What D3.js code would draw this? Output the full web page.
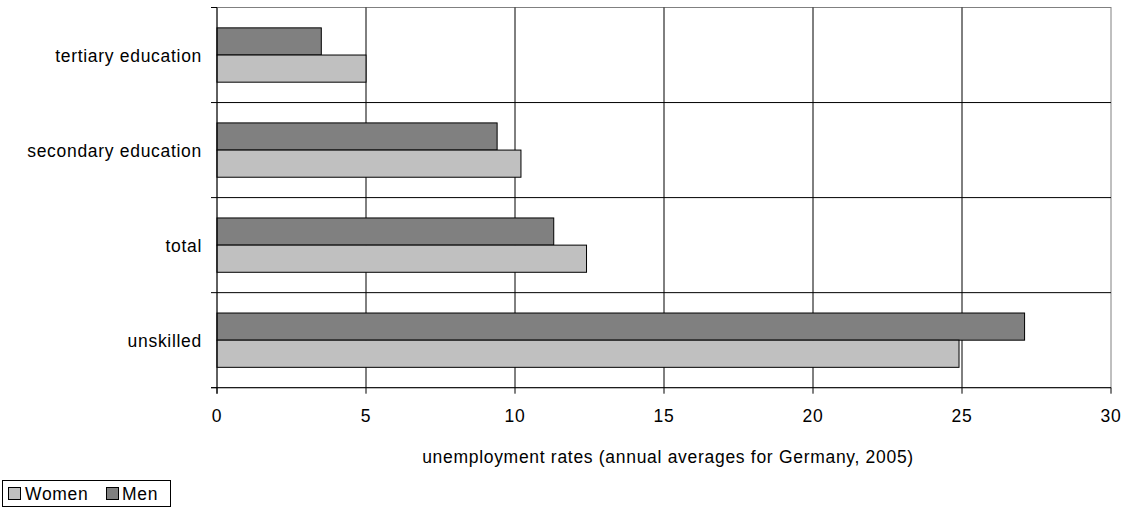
<!DOCTYPE html>
<html>
<head>
<meta charset="utf-8">
<script src="https://cdn.jsdelivr.net/npm/d3@7"></script>
<style>
  html, body { margin: 0; padding: 0; background: #fff; }
  svg { display: block; }
  svg text { font-family: "Liberation Sans", Arial, Helvetica, sans-serif; }
</style>
</head>
<body>
<svg id="chart" width="1131" height="514"></svg>
<script>
// ---- data ----
const categories = ["tertiary education", "secondary education", "total", "unskilled"];
const seriesNames = ["Men", "Women"];
const menValues = [3.5, 9.4, 11.3, 27.1];
const womenValues = [5.0, 10.2, 12.4, 24.9];
const xTicks = [0, 5, 10, 15, 20, 25, 30];
const axisTitle = "unemployment rates (annual averages for Germany, 2005)";
const legendItems = ["Women", "Men"];

const colors = { Men: "#808080", Women: "#c0c0c0" };

(function () {
const svg = d3.select("#chart");
const pL = 217, pR = 1111, pT = 7.5, pB = 387.7;
const FF = "Liberation Sans, Arial, Helvetica, sans-serif";

const x = d3.scaleLinear().domain([0, 30]).range([pL, pR]);
const y = d3.scaleBand().domain(categories).range([pT, pB]).paddingInner(0).paddingOuter(0);
const groupW = y.bandwidth() / 1.75;
const inner = d3.scaleBand().domain(seriesNames).range([0, groupW]);

const font = 17.5, ls = "0.7px";

// plot border (top/right gray)
svg.append("rect").attr("x", pL).attr("y", pT).attr("width", pR - pL).attr("height", pB - pT)
  .attr("fill", "#fff").attr("stroke", "#808080").attr("stroke-width", 1);

// vertical gridlines
svg.append("g").selectAll("line").data(xTicks.filter(d => d > 0 && d < 30)).join("line")
  .attr("x1", d => x(d)).attr("x2", d => x(d)).attr("y1", pT).attr("y2", pB)
  .attr("stroke", "#000").attr("stroke-width", 1);

// horizontal category separators
const bounds = categories.map(c => y(c)).concat([pB]);
svg.append("g").selectAll("line").data(bounds.slice(1, -1)).join("line")
  .attr("x1", pL).attr("x2", pR).attr("y1", d => d).attr("y2", d => d)
  .attr("stroke", "#000").attr("stroke-width", 1);

// bars
const rows = categories.map((c, i) => ({ c, Men: menValues[i], Women: womenValues[i] }));
const g = svg.append("g");
rows.forEach(r => {
  const off = y(r.c) + (y.bandwidth() - groupW) / 2;
  seriesNames.forEach(s => {
    g.append("rect")
      .attr("x", x(0)).attr("y", off + inner(s))
      .attr("width", x(r[s]) - x(0)).attr("height", inner.bandwidth())
      .attr("fill", colors[s]).attr("stroke", "#000").attr("stroke-width", 1);
  });
});

// left axis line and ticks
svg.append("line").attr("x1", pL).attr("x2", pL).attr("y1", pT).attr("y2", pB + 6)
  .attr("stroke", "#000");
svg.append("g").selectAll("line").data(bounds).join("line")
  .attr("x1", pL - 6).attr("x2", pL).attr("y1", d => d).attr("y2", d => d).attr("stroke", "#000");

// bottom axis line and ticks
svg.append("line").attr("x1", pL - 6).attr("x2", pR).attr("y1", pB).attr("y2", pB).attr("stroke", "#000");
svg.append("g").selectAll("line").data(xTicks).join("line")
  .attr("x1", d => x(d)).attr("x2", d => x(d)).attr("y1", pB).attr("y2", pB + 6).attr("stroke", "#000");

// x tick labels
svg.append("g").selectAll("text").data(xTicks).join("text")
  .attr("x", d => x(d)).attr("y", 422).attr("text-anchor", "middle").attr("font-family", FF)
  .attr("font-size", font).attr("letter-spacing", ls).attr("fill", "#000").text(d => d);

// x axis title
svg.append("text").attr("x", (pL + pR) / 2 + 4).attr("y", 463).attr("font-family", FF)
  .attr("text-anchor", "middle").attr("font-size", font).attr("letter-spacing", ls).text(axisTitle);

// category labels
svg.append("g").selectAll("text").data(categories).join("text")
  .attr("x", 202).attr("y", d => y(d) + y.bandwidth() / 2 + 7).attr("font-family", FF)
  .attr("text-anchor", "end").attr("font-size", font).attr("letter-spacing", ls).text(d => d);

// legend
const lg = svg.append("g");
lg.append("rect").attr("x", 2.5).attr("y", 480.5).attr("width", 168).attr("height", 26)
  .attr("fill", "#fff").attr("stroke", "#000").attr("stroke-width", 1);
const legendX = [8.5, 106.5];
const legendTextX = [25, 122];
legendItems.forEach((name, i) => {
  lg.append("rect").attr("x", legendX[i]).attr("y", 487.5).attr("width", 12).attr("height", 12)
    .attr("fill", colors[name]).attr("stroke", "#000").attr("stroke-width", 1);
  lg.append("text").attr("x", legendTextX[i]).attr("y", 499.5).attr("font-size", font).attr("font-family", FF)
    .attr("letter-spacing", ls).text(name);
});
})();
</script>
</body>
</html>
